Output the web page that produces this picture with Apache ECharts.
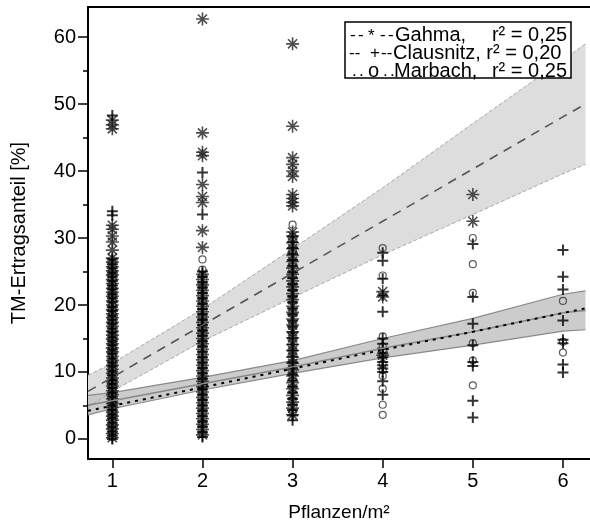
<!DOCTYPE html>
<html><head><meta charset="utf-8">
<script src="https://cdn.jsdelivr.net/npm/echarts@6/dist/echarts.min.js"></script>
<style>html,body{margin:0;padding:0;background:#fff}#c{width:590px;height:527px}</style>
</head><body><div id="c"></div>
<script>
var FONT = '"Liberation Sans", Arial, sans-serif';
var xTicks = [1, 2, 3, 4, 5, 6];
var yTicks = [0, 10, 20, 30, 40, 50, 60];
var yMinorTicks = [5, 15, 25, 35, 45, 55];

// Gahma (asterisks), values per plant density
var gahma1 = [0.2,0.8,1.5,2.1,2.8,3.4,4.0,4.7,5.3,6.0,6.6,7.2,7.9,8.5,9.1,9.8,10.4,11.0,11.7,12.3,13.0,13.6,14.2,14.9,15.5,16.1,16.8,17.4,18.1,18.7,19.3,20.0,20.6,21.3,21.9,22.5,23.2,23.8,24.5,25.1,25.7,26.4,27.0,28.2,29.4,30.3,31.3,31.9,46.3,46.9,47.6];
var gahma2 = [0.6,1.4,2.2,3.0,3.8,4.6,5.4,6.2,7.0,7.8,8.6,9.4,10.2,11.0,11.8,12.6,13.4,14.2,15.0,15.8,16.6,17.4,18.2,19.0,19.8,20.6,21.4,22.2,23.0,23.8,24.6,28.6,31.1,35.3,36.2,38.0,42.3,42.8,45.7,62.7];
var gahma3 = [3.6,4.6,5.5,6.5,7.5,8.4,9.4,10.3,11.3,12.2,13.2,14.1,15.1,16.0,17.0,17.9,18.9,19.8,20.8,21.7,22.7,23.6,24.6,25.5,26.5,27.4,28.4,29.3,30.3,30.9,34.8,35.3,35.9,36.5,39.2,40.0,41.0,42.0,46.7,59.0];
var gahma4 = [21.2, 22.0, 12.5];
var gahma5 = [36.5, 32.5];

// Clausnitz (plus)
var claus1 = [0.0,0.5,1.1,1.8,2.4,3.1,3.7,4.3,5.0,5.6,6.3,6.9,7.6,8.2,8.8,9.5,10.1,10.8,11.4,12.0,12.7,13.3,14.0,14.6,15.2,15.9,16.5,17.2,17.8,18.4,19.1,19.7,20.4,21.0,21.6,22.3,22.9,23.6,24.2,24.8,25.5,26.1,26.8,33.4,34.0,48.3];
var claus2 = [0.3,1.0,1.8,2.6,3.4,4.2,5.0,5.8,6.6,7.4,8.2,9.0,9.8,10.6,11.4,12.2,13.0,13.8,14.6,15.4,16.2,17.0,17.8,18.6,19.4,20.2,21.0,21.8,22.6,23.4,24.2,25.0,33.5,39.8];
var claus3 = [2.8,3.5,4.3,5.1,6.0,6.9,7.8,8.7,9.6,10.5,11.4,12.3,13.2,14.1,15.0,15.9,16.8,17.7,18.6,19.5,20.4,21.3,22.2,23.1,24.0,24.9,25.8,26.7,27.6,28.5,29.4,30.2];
var claus4 = [26.6, 27.8, 23.9, 21.4, 19.0, 15.0, 14.2, 13.5, 12.8, 12.2, 11.5, 11.0, 10.5, 10.0, 8.6, 6.6];
var claus5 = [29.1, 21.2, 17.2, 14.0, 11.5, 10.9, 5.7, 3.2];
var claus6 = [28.2, 24.2, 22.3, 17.7, 14.8, 14.3, 11.1, 9.9];

// Marbach (circles)
var marb1 = [0.3,1.2,2.0,2.9,3.9,4.8,5.7,6.7,7.6,8.5,9.6,10.6,11.5,12.6,13.7,14.8,16.0,17.3,18.6,20.0,21.5,23.0,25.0];
var marb2 = [0.8,2.4,4.0,5.6,7.2,9.0,10.8,12.6,14.5,16.4,18.3,20.5,22.6,24.5,25.3,26.8];
var marb3 = [4.0,5.8,7.6,9.5,11.3,13.2,15.0,16.9,18.8,20.6,22.5,24.4,26.3,28.1,32.0];
var marb4 = [28.5, 24.4, 15.3, 13.8, 12.4, 11.2, 10.3, 9.4, 7.5, 5.1, 3.6];
var marb5 = [30.0, 26.1, 21.8, 14.3, 11.7, 8.0];
var marb6 = [20.6, 14.5, 12.9];

// regression lines and confidence bands
var fitX = [0.73, 1, 2, 3, 4, 5, 6, 6.25];
var gahmaFit = [7.1, 9.2, 17.0, 24.75, 32.5, 40.3, 48.1, 50.0];
var gahmaLo  = [4.7, 7.1, 14.6, 21.1, 27.5, 33.5, 39.6, 41.0];
var gahmaHi  = [9.5, 11.3, 19.4, 28.4, 37.5, 47.1, 56.6, 59.0];
var clausFit = [5.05, 5.7, 8.25, 10.75, 13.55, 16.0, 18.85, 19.2];
var clausLo  = [3.6, 4.5, 7.3, 9.8, 12.1, 14.0, 16.1, 16.3];
var clausHi  = [6.5, 6.9, 9.2, 11.7, 15.0, 18.0, 21.6, 22.1];
var marbFit  = [4.2, 4.95, 7.7, 10.5, 13.3, 16.0, 18.8, 19.5];

// legend rows
var legendMarks = [['-', '-', '*', '-', '-'], ['--', '+', '--'], ['.', '.', 'o', '.', '.']];
var legendNames = ['Gahma,', 'Clausnitz, r² = 0,20', 'Marbach,'];
var legendR2 = ['r² = 0,25', '', 'r² = 0,25'];

function pairs(x, ys) { return ys.map(function (v) { return [x, v]; }); }
function group(lists) {
  var out = [];
  lists.forEach(function (l, i) { if (l) out = out.concat(pairs(i + 1, l)); });
  return out;
}
function line(xs, ys) { return xs.map(function (x, i) { return [x, ys[i]]; }); }

function band(lo, hi, fill) {
  return {
    type: 'custom', silent: true, z: 1, data: [0],
    renderItem: function (params, api) {
      var pts = [], i;
      for (i = 0; i < fitX.length; i++) pts.push(api.coord([fitX[i], hi[i]]));
      for (i = fitX.length - 1; i >= 0; i--) pts.push(api.coord([fitX[i], lo[i]]));
      return { type: 'polygon', shape: { points: pts }, style: { fill: fill } };
    }
  };
}
function edge(ys, color, type, width, z) {
  return { type: 'line', data: line(fitX, ys), symbol: 'none', silent: true, z: z || 2,
    lineStyle: { color: color, type: type, width: width } };
}

var asterisk = 'path://M0,-1L0,1M-1,0L1,0M-0.7,-0.7L0.7,0.7M-0.7,0.7L0.7,-0.7';
var plus = 'path://M0,-1L0,1M-1,0L1,0';
var ring = 'path://M1,0A1,1 0 1,1 -1,0A1,1 0 1,1 1,0Z';

var legendChildren = [
  { type: 'rect', z: 100, shape: { x: 345, y: 22, width: 226, height: 56 },
    style: { fill: '#fff', stroke: '#000', lineWidth: 1.5 } }
];
var rowY = [35, 53.5, 71];
var nameX = [395, 393, 394];
var markPos = [[350, 358, 368, 380, 388], [349, 370, 381], [352, 359, 368, 383, 390]];
legendMarks.forEach(function (marks, i) {
  marks.forEach(function (m, j) {
    legendChildren.push({ type: 'text', z: 101, x: markPos[i][j], y: rowY[i] + (m === '*' ? 1 : 0),
      style: { text: m, font: (m === 'o' ? '20px ' : '17px ') + FONT, fill: '#000', verticalAlign: 'middle' } });
  });
  legendChildren.push({ type: 'text', z: 101, x: nameX[i], y: rowY[i],
    style: { text: legendNames[i], font: '20px ' + FONT, fill: '#000', verticalAlign: 'middle' } });
  if (legendR2[i]) legendChildren.push({ type: 'text', z: 101, x: 567, y: rowY[i],
    style: { text: legendR2[i], font: '20px ' + FONT, fill: '#000', align: 'right', verticalAlign: 'middle' } });
});

var chart = echarts.init(document.getElementById('c'));
chart.setOption({
  animation: false,
  backgroundColor: '#fff',
  textStyle: { fontFamily: FONT },
  grid: { left: 88, right: 0, top: 7, bottom: 66 },
  xAxis: [{
    type: 'value', min: 0.73, max: 6.3, position: 'bottom',
    axisLine: { show: true, onZero: false, lineStyle: { color: '#000', width: 2 } },
    axisTick: { show: true, customValues: xTicks, length: 9, lineStyle: { color: '#000', width: 1.5 } },
    axisLabel: { customValues: xTicks, fontSize: 20, color: '#000', margin: 12, fontFamily: FONT },
    splitLine: { show: false },
    name: 'Pflanzen/m²', nameLocation: 'middle', nameGap: 44,
    nameTextStyle: { fontSize: 19, color: '#000', fontFamily: FONT }
  }, {
    type: 'value', min: 0.73, max: 6.3, position: 'top',
    axisLine: { show: true, onZero: false, lineStyle: { color: '#000', width: 2 } },
    axisTick: { show: false }, axisLabel: { show: false }, splitLine: { show: false }
  }],
  yAxis: [{
    type: 'value', min: -3, max: 64.5,
    axisLine: { show: true, onZero: false, lineStyle: { color: '#000', width: 2 } },
    axisTick: { show: true, customValues: yTicks, length: 10, lineStyle: { color: '#000', width: 1.5 } },
    axisLabel: { customValues: yTicks, fontSize: 20, color: '#000', margin: 12, fontFamily: FONT },
    splitLine: { show: false },
    name: 'TM-Ertragsanteil [%]', nameLocation: 'middle', nameGap: 59, nameRotate: 90,
    nameTextStyle: { fontSize: 20, color: '#000', fontFamily: FONT }
  }, {
    type: 'value', min: -3, max: 64.5, position: 'left',
    axisLine: { show: false },
    axisTick: { show: true, customValues: yMinorTicks, length: 5, lineStyle: { color: '#000', width: 1.5 } },
    axisLabel: { show: false }, splitLine: { show: false }
  }],
  series: [
    band(gahmaLo, gahmaHi, '#dddddd'),
    band(clausLo, clausHi, 'rgba(195,195,195,0.85)'),
    edge(gahmaLo, '#aaa', 'dashed', 1, 2),
    edge(gahmaHi, '#aaa', 'dashed', 1, 2),
    edge(clausLo, '#8a8a8a', 'solid', 1.2, 2),
    edge(clausHi, '#8a8a8a', 'solid', 1.2, 2),
    { type: 'scatter', name: 'Marbach', data: group([marb1, marb2, marb3, marb4, marb5, marb6]),
      symbol: ring, symbolSize: 7, z: 3,
      itemStyle: { color: 'transparent', borderColor: '#333', borderWidth: 1.2 } },
    { type: 'scatter', name: 'Gahma', data: group([gahma1, gahma2, gahma3, gahma4, gahma5]),
      symbol: asterisk, symbolSize: 13, z: 3,
      itemStyle: { color: 'transparent', borderColor: '#222', borderWidth: 1.6 } },
    { type: 'scatter', name: 'Clausnitz', data: group([claus1, claus2, claus3, claus4, claus5, claus6]),
      symbol: plus, symbolSize: 11, z: 3,
      itemStyle: { color: 'transparent', borderColor: '#000', borderWidth: 2 } },
    edge(gahmaFit, '#555', [9, 7], 1.6, 4),
    edge(clausFit, '#888', 'solid', 1.6, 4),
    edge(marbFit, '#000', [3, 5], 2, 4)
  ],
  graphic: [{ type: 'group', z: 100, children: legendChildren }]
});
</script></body></html>
